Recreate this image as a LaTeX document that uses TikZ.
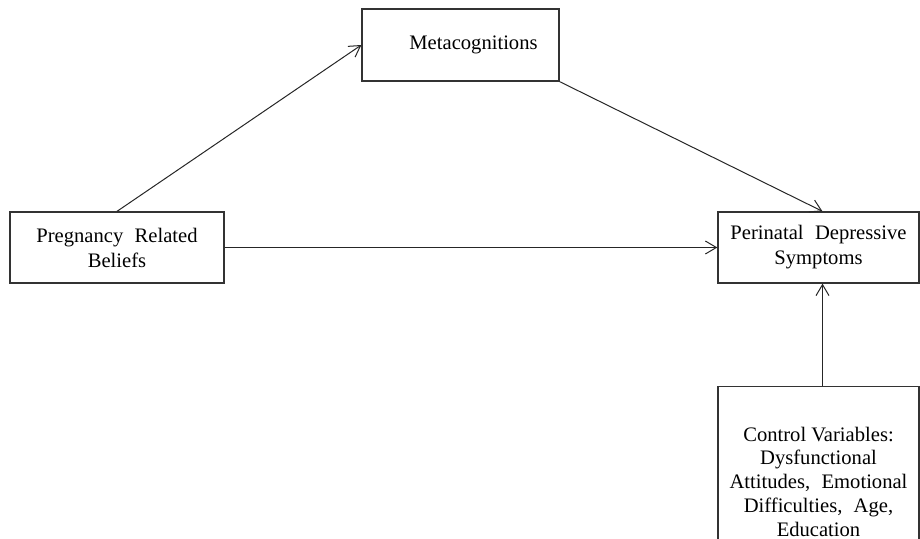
\documentclass[tikz,border=0pt]{standalone}
\usepackage{fontspec}
\setmainfont{Liberation Serif}
\usetikzlibrary{arrows.meta}
\newcommand{\wgap}{\hspace{0.55em}}

\begin{document}
\begin{tikzpicture}[x=0.5pt,y=-0.5pt,
    box/.style={draw=black!80,line width=0.65pt,align=center,inner sep=0pt,
      font=\fontsize{10.3}{12.5}\selectfont},
    link/.style={draw=black!85,line width=0.5pt,-{Straight Barb[length=5.5pt,width=6.5pt]}}]
    \useasboundingbox (0,0) rectangle (920,539);
    \clip (0,0) rectangle (920,539);
    % boxes
    \node[box,minimum width=98.5pt,minimum height=36pt] (meta) at (460.5,45) {\hspace*{13pt}Metacognitions};
    \node[box,minimum width=107pt,minimum height=35.5pt] (preg) at (117,247.5) {Pregnancy\wgap Related\\Beliefs};
    \node[box,minimum width=100.5pt,minimum height=35.5pt] (peri) at (818.5,247.5) {Perinatal\wgap Depressive\\Symptoms};
    \node[box,anchor=north,minimum width=100.5pt,minimum height=95pt,
      font=\fontsize{10.3}{11.9}\selectfont] (ctrl) at (818.5,386)
      {Control Variables:\\Dysfunctional\\Attitudes,\wgap Emotional\\Difficulties,\wgap Age,\\Education};
    % paths
    \draw[link] (preg.north) -- (meta.west);
    \draw[link] (meta.south east) -- ([xshift=2pt]peri.north);
    \draw[link] (preg.east) -- (peri.west);
    \draw[link] ([xshift=2pt]ctrl.north) -- ([xshift=2pt]peri.south);
\end{tikzpicture}
\end{document}
